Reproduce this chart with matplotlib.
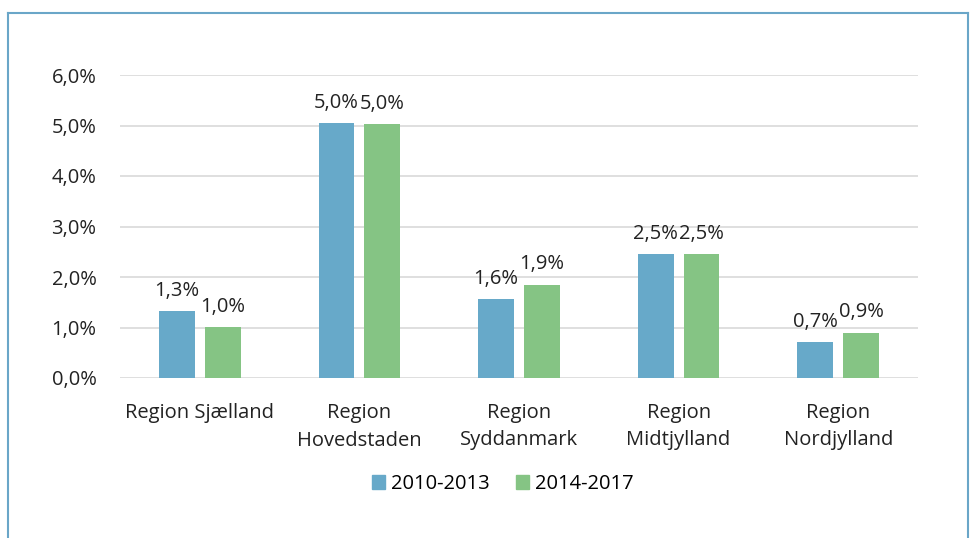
import matplotlib
matplotlib.use("Agg")
import matplotlib.pyplot as plt
from matplotlib.patches import Rectangle
from matplotlib.lines import Line2D
import numpy as np

plt.rcParams['font.family'] = ['Open Sans', 'DejaVu Sans']

categories = ["Region Sjælland", "Region\nHovedstaden", "Region\nSyddanmark", "Region\nMidtjylland", "Region\nNordjylland"]
series_names = ["2010-2013", "2014-2017"]
values_2010_2013 = [1.33, 5.05, 1.57, 2.46, 0.71]
values_2014_2017 = [1.01, 5.03, 1.85, 2.46, 0.90]
yticks = [0, 1, 2, 3, 4, 5, 6]

colors = ["#67a9c9", "#85c484"]
fs = 14.5

W, H = 972, 538
fig = plt.figure(figsize=(W/100, H/100), dpi=100)

# axes: x from 120 to 918 px, y0 at 378, y6 at 75
ax = fig.add_axes([120/W, 1-378/H, (918-120)/W, (378-75)/H])
ax.set_ylim(0, 6)
ax.set_xlim(-0.5, 4.5)

x = np.arange(len(categories))
bw = 0.225
off = (bw + 0.0625)/2
for vals, c, o in [(values_2010_2013, colors[0], -off), (values_2014_2017, colors[1], off)]:
    bars = ax.bar(x + o, vals, width=bw, color=c, zorder=3)
    for b, v in zip(bars, vals):
        ax.text(b.get_x()+b.get_width()/2, v + 0.2, f"{v:.1f}%".replace('.', ','),
                ha='center', va='bottom', fontsize=fs, color='#222222')

ax.set_yticks(yticks)
ax.set_yticklabels([f"{t:.1f}%".replace('.', ',') for t in yticks], fontsize=fs, color='#222222')
ax.yaxis.grid(True, color='#d9d9d9', linewidth=1.2, zorder=0)
ax.set_xticks(x)
ax.set_xticklabels(categories, fontsize=fs, color='#222222', linespacing=1.5)
ax.tick_params(axis='both', length=0)
ax.tick_params(axis='y', pad=17)
ax.tick_params(axis='x', pad=18)
for s in ax.spines.values():
    s.set_visible(False)

# legend
handles = [Rectangle((0, 0), 1, 1, color=colors[0]), Rectangle((0, 0), 1, 1, color=colors[1])]
fig.legend(handles, series_names, loc='center', bbox_to_anchor=(503/W, 1-484/H), ncol=2,
           frameon=False, fontsize=fs, handlelength=0.65, handleheight=0.65,
           handletextpad=0.3, columnspacing=1.3)

# outer blue frame (left, top, right)
frame_col = "#6aa6c8"
fig.add_artist(Line2D([8/W, 8/W], [0, 1-13/H], transform=fig.transFigure, color=frame_col, lw=1.5))
fig.add_artist(Line2D([8/W, 968/W], [1-13/H, 1-13/H], transform=fig.transFigure, color=frame_col, lw=1.5))
fig.add_artist(Line2D([968/W, 968/W], [0, 1-13/H], transform=fig.transFigure, color=frame_col, lw=1.5))

fig.savefig("out.png", dpi=100)
